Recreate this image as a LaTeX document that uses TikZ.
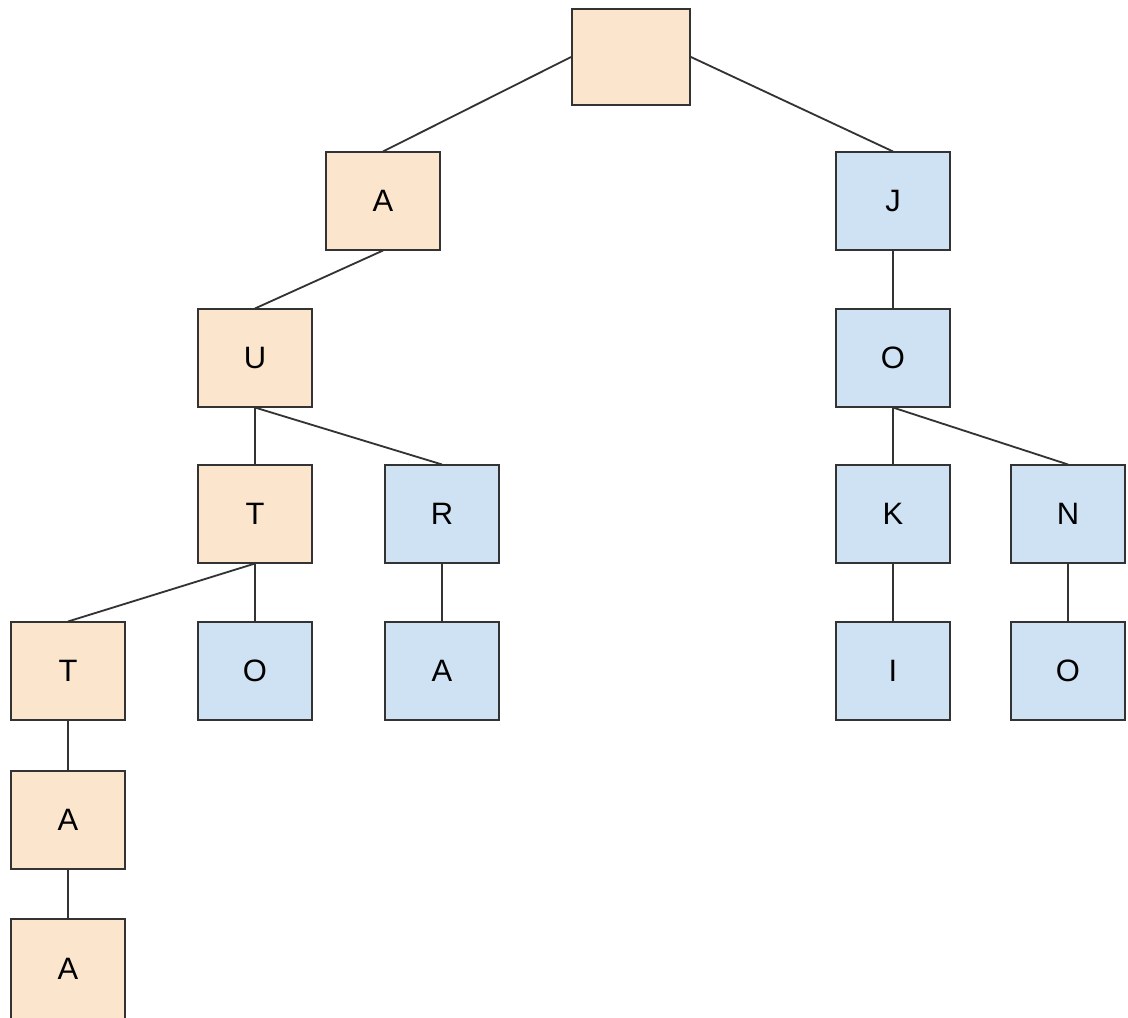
\documentclass[tikz,border=0pt]{standalone}
\usepackage{fontspec}
\setmainfont{Liberation Sans}
\usepackage{xcolor}
\usepackage{tikz}
\usetikzlibrary{positioning}

\definecolor{peach}{HTML}{FCE5CD}
\definecolor{paleblue}{HTML}{CFE2F3}
\definecolor{edgegray}{HTML}{333333}

\begin{document}
\begin{tikzpicture}[x=0.025cm,y=-0.025cm,-,
                    line width=1.3pt,draw=edgegray,
                    main node/.style={rectangle,draw=edgegray,line width=1.3pt,inner sep=0pt,
                                      minimum width=2.85cm,minimum height=2.43cm,
                                      font=\fontsize{22}{26}\selectfont},
                    warm node/.style={main node,fill=peach},
                    cool node/.style={main node,fill=paleblue}]
\useasboundingbox (0,0) rectangle (1128,1017);

% root and first level
\node[warm node,minimum width=2.95cm,minimum height=2.38cm] (Root) at (631,57) {};
\node[warm node] (LeftA) at (383,201) {A};
\node[cool node] (RightJ) at (893,201) {J};

% left branch
\node[warm node] (LeftU) at (255,358) {U};
\node[warm node] (LeftT) at (255,514) {T};
\node[cool node] (LeftR) at (442,514) {R};
\node[warm node] (DeepT) at (68,671) {T};
\node[cool node] (DeepO) at (255,671) {O};
\node[cool node] (DeepRA) at (442,671) {A};
\node[warm node] (DeepA) at (68,820) {A};
\node[warm node,minimum height=2.52cm] (LastA) at (68,969) {A};

% right branch
\node[cool node] (RightO) at (893,358) {O};
\node[cool node] (RightK) at (893,514) {K};
\node[cool node] (RightN) at (1068,514) {N};
\node[cool node] (RightI) at (893,671) {I};
\node[cool node] (LastO) at (1068,671) {O};

\draw (Root.west) -- (LeftA.north);
\draw (Root.east) -- (RightJ.north);

\foreach \up/\down in {LeftA/LeftU, LeftU/LeftT, LeftU/LeftR, LeftT/DeepT, LeftT/DeepO,
                       LeftR/DeepRA, DeepT/DeepA, DeepA/LastA,
                       RightJ/RightO, RightO/RightK, RightO/RightN, RightK/RightI, RightN/LastO}
   \draw (\up.south) -- (\down.north);

\end{tikzpicture}
\end{document}
